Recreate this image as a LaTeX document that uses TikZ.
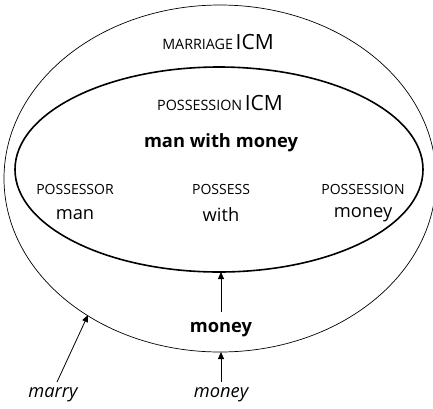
\documentclass[tikz,border=0pt]{standalone}
\usepackage{fontspec}
\setmainfont{Open Sans}
\usetikzlibrary{arrows.meta}
\begin{document}
\begin{tikzpicture}[x=1pt,y=-1pt,
  big/.style={font=\fontsize{18.3}{20}\selectfont, inner sep=0pt},
  sc/.style={font=\fontsize{14}{16}\selectfont, inner sep=0pt},
  lbl/.style={inner sep=0pt, align=center},
  link/.style={line width=0.8pt, -{Triangle[length=7pt,width=6pt]}}]
\useasboundingbox (0,0) rectangle (433,408);
\begin{scope}
\clip (0,0) rectangle (433,408);
% frames of the two models
\draw[line width=0.7pt] (220,178.5) ellipse [x radius=216, y radius=173.5];
\draw[line width=1.6pt] (219,169.5) ellipse [x radius=204, y radius=102.5];
\end{scope}
\coordinate (outerbot) at (221,352);
\coordinate (innerbot) at (221,272);
\coordinate (outerleft) at (88,315);
\coordinate (marrytop) at (57,382);
\coordinate (moneytop) at (221,382);
\coordinate (boldtop) at (221,312);
% headings
\node[lbl] (marriage) at (218,42) {{\fontsize{14.3}{16}\selectfont MARRIAGE} {\fontsize{21}{22}\selectfont ICM}};
\node[lbl] (possession) at (220,103) {{\fontsize{14.3}{16}\selectfont POSSESSION} {\fontsize{21}{22}\selectfont ICM}};
\node[big] (mwm) at (221,143) {\bfseries man with money};
% roles and fillers
\node[sc] (r1) at (75,189) {POSSESSOR};
\node[big] (f1) at (75,215) {man};
\node[sc] (r2) at (221,189) {POSSESS};
\node[big] (f2) at (221,215) {with};
\node[sc] (r3) at (363,189) {POSSESSION};
\node[big] (f3) at (363,215) {money};
% inputs
\node[big] (bmoney) at (221,330) {\bfseries money};
\node[big] (imoney) at (221,395) {\itshape money};
\node[big] (marry) at (53,395) {\itshape marry};
\draw[link] (boldtop) -- (innerbot);
\draw[link] (moneytop) -- (outerbot);
\draw[link] (marrytop) -- (outerleft);
\end{tikzpicture}
\end{document}
